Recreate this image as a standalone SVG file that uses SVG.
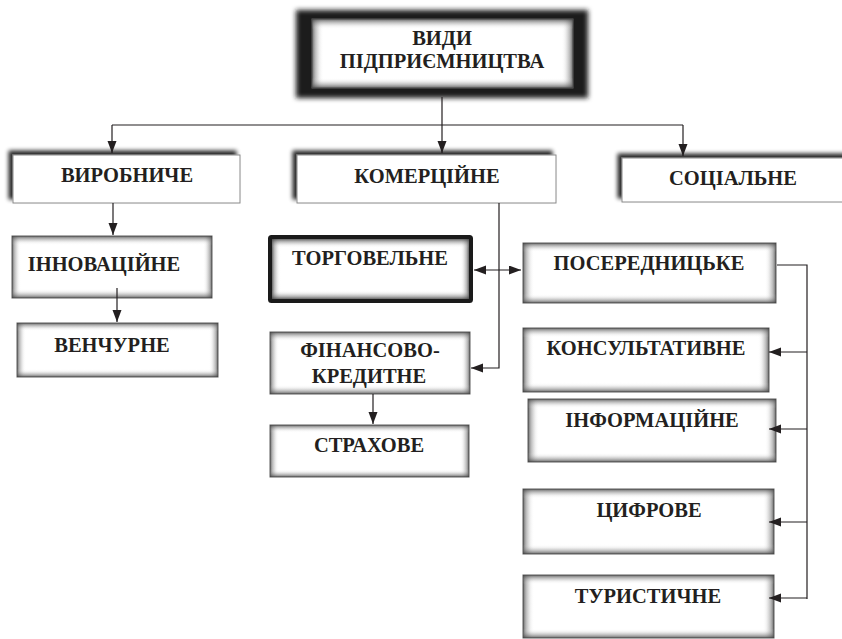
<svg xmlns="http://www.w3.org/2000/svg" width="842" height="639" viewBox="0 0 842 639">
  <defs>
    <style>
      .lbl { font-family: "Liberation Serif", "Times New Roman", "DejaVu Serif", serif; font-weight: bold; font-size: 20.5px; fill: #231f20; text-anchor: middle; }
      .edge { fill: none; stroke: #231f20; stroke-width: 1.2; }
      .card { fill: #ffffff; stroke: #5e5e5e; stroke-width: 1; }
      .sh { fill: url(#shadeX); }
      .sv { fill: url(#shadeY); }
      .raised { fill: #ffffff; stroke: #8a8a8a; stroke-width: 1; }
    </style>
    <marker id="arr" markerUnits="userSpaceOnUse" markerWidth="13" markerHeight="10" refX="12" refY="4.5" orient="auto-start-reverse">
      <path d="M0,0 L12,4.5 L0,9 Z" fill="#231f20"/>
    </marker>
    <!-- grey fade along the left/right inner edges -->
    <linearGradient id="shadeX" x1="0" y1="0" x2="1" y2="0">
      <stop offset="0" stop-color="#404040" stop-opacity="0.8"/>
      <stop offset="0.012" stop-color="#606060" stop-opacity="0.45"/>
      <stop offset="0.03" stop-color="#909090" stop-opacity="0.12"/>
      <stop offset="0.045" stop-color="#ffffff" stop-opacity="0"/>
      <stop offset="0.955" stop-color="#ffffff" stop-opacity="0"/>
      <stop offset="0.97" stop-color="#909090" stop-opacity="0.12"/>
      <stop offset="0.988" stop-color="#606060" stop-opacity="0.45"/>
      <stop offset="1" stop-color="#404040" stop-opacity="0.8"/>
    </linearGradient>
    <!-- grey fade along the top/bottom inner edges -->
    <linearGradient id="shadeY" x1="0" y1="0" x2="0" y2="1">
      <stop offset="0" stop-color="#404040" stop-opacity="0.8"/>
      <stop offset="0.045" stop-color="#606060" stop-opacity="0.45"/>
      <stop offset="0.1" stop-color="#909090" stop-opacity="0.12"/>
      <stop offset="0.15" stop-color="#ffffff" stop-opacity="0"/>
      <stop offset="0.85" stop-color="#ffffff" stop-opacity="0"/>
      <stop offset="0.9" stop-color="#909090" stop-opacity="0.12"/>
      <stop offset="0.955" stop-color="#606060" stop-opacity="0.45"/>
      <stop offset="1" stop-color="#404040" stop-opacity="0.8"/>
    </linearGradient>
    <!-- dark shadow cast up and to the left -->
    <filter id="lift" x="-10%" y="-30%" width="120%" height="160%">
      <feOffset in="SourceAlpha" dx="-4" dy="-4" result="o"/>
      <feGaussianBlur in="o" stdDeviation="2" result="b"/>
      <feComponentTransfer in="b" result="s"><feFuncA type="linear" slope="0.85"/></feComponentTransfer>
      <feMerge><feMergeNode in="s"/><feMergeNode in="SourceGraphic"/></feMerge>
    </filter>
    <filter id="haze" x="-10%" y="-20%" width="120%" height="140%">
      <feGaussianBlur stdDeviation="2.5"/>
    </filter>
  </defs>

  <rect width="842" height="639" fill="#ffffff"/>

  <!-- root -->
  <g id="root">
    <rect x="296" y="10" width="292" height="88" fill="#1e1e1e" filter="url(#haze)"/>
    <rect x="312" y="19" width="261" height="69" class="card"/>
    <rect x="312" y="19" width="261" height="69" class="sh"/>
    <rect x="312" y="19" width="261" height="69" class="sv"/>
    <text class="lbl" x="442" y="45">ВИДИ</text>
    <text class="lbl" x="442" y="68">ПІДПРИЄМНИЦТВА</text>
  </g>

  <!-- first level -->
  <g id="vyrobnyche">
    <rect x="13" y="155" width="227" height="48" class="raised" filter="url(#lift)"/>
    <text class="lbl" x="127" y="182">ВИРОБНИЧЕ</text>
  </g>
  <g id="komertsiine">
    <rect x="297" y="155" width="259" height="48" class="raised" filter="url(#lift)"/>
    <text class="lbl" x="427" y="183">КОМЕРЦІЙНЕ</text>
  </g>
  <g id="sotsialne">
    <rect x="622" y="158" width="230" height="44" class="raised" filter="url(#lift)"/>
    <text class="lbl" x="733" y="185">СОЦІАЛЬНЕ</text>
  </g>

  <!-- production branch -->
  <g id="innovatsiine">
    <rect x="12" y="236" width="200" height="62" class="card"/>
    <rect x="12" y="236" width="200" height="62" class="sh"/>
    <rect x="12" y="236" width="200" height="62" class="sv"/>
    <text class="lbl" x="104" y="271">ІННОВАЦІЙНЕ</text>
  </g>
  <g id="venchurne">
    <rect x="17" y="323" width="201" height="54" class="card"/>
    <rect x="17" y="323" width="201" height="54" class="sh"/>
    <rect x="17" y="323" width="201" height="54" class="sv"/>
    <text class="lbl" x="112" y="352">ВЕНЧУРНЕ</text>
  </g>

  <!-- commercial branch -->
  <g id="torhovelne">
    <rect x="270" y="237" width="201" height="64" class="card"/>
    <rect x="272" y="239" width="197" height="60" class="sh"/>
    <rect x="272" y="239" width="197" height="60" class="sv"/>
    <rect x="270" y="237" width="201" height="64" fill="none" stroke="#1a1a1a" stroke-width="4" rx="1.5"/>
    <text class="lbl" x="370" y="265">ТОРГОВЕЛЬНЕ</text>
  </g>
  <g id="finansovo-kredytne">
    <rect x="270" y="332" width="200" height="62" class="card"/>
    <rect x="270" y="332" width="200" height="62" class="sh"/>
    <rect x="270" y="332" width="200" height="62" class="sv"/>
    <text class="lbl" x="370" y="357">ФІНАНСОВО-</text>
    <text class="lbl" x="369" y="383">КРЕДИТНЕ</text>
  </g>
  <g id="strakhove">
    <rect x="270" y="425" width="199" height="52" class="card"/>
    <rect x="270" y="425" width="199" height="52" class="sh"/>
    <rect x="270" y="425" width="199" height="52" class="sv"/>
    <text class="lbl" x="369" y="452">СТРАХОВЕ</text>
  </g>

  <!-- intermediary branch -->
  <g id="poserednytske">
    <rect x="523" y="243" width="253" height="60" class="card"/>
    <rect x="523" y="243" width="253" height="60" class="sh"/>
    <rect x="523" y="243" width="253" height="60" class="sv"/>
    <text class="lbl" x="649" y="270">ПОСЕРЕДНИЦЬКЕ</text>
  </g>
  <g id="konsultatyvne">
    <rect x="523" y="328" width="246" height="64" class="card"/>
    <rect x="523" y="328" width="246" height="64" class="sh"/>
    <rect x="523" y="328" width="246" height="64" class="sv"/>
    <text class="lbl" x="646" y="355">КОНСУЛЬТАТИВНЕ</text>
  </g>
  <g id="informatsiine">
    <rect x="528" y="399" width="248" height="63" class="card"/>
    <rect x="528" y="399" width="248" height="63" class="sh"/>
    <rect x="528" y="399" width="248" height="63" class="sv"/>
    <text class="lbl" x="652" y="427">ІНФОРМАЦІЙНЕ</text>
  </g>
  <g id="tsyfrove">
    <rect x="523" y="489" width="251" height="65" class="card"/>
    <rect x="523" y="489" width="251" height="65" class="sh"/>
    <rect x="523" y="489" width="251" height="65" class="sv"/>
    <text class="lbl" x="649" y="517">ЦИФРОВЕ</text>
  </g>
  <g id="turystychne">
    <rect x="523" y="575" width="251" height="63" class="card"/>
    <rect x="523" y="575" width="251" height="63" class="sh"/>
    <rect x="523" y="575" width="251" height="63" class="sv"/>
    <text class="lbl" x="648" y="603">ТУРИСТИЧНЕ</text>
  </g>

  <!-- connectors -->
  <g id="connectors">
    <path class="edge" d="M442,97 V125 M112,125 H683"/>
    <path class="edge" d="M112,125 V153" marker-end="url(#arr)"/>
    <path class="edge" d="M442,125 V153" marker-end="url(#arr)"/>
    <path class="edge" d="M683,125 V156" marker-end="url(#arr)"/>
    <path class="edge" d="M113,203 V235" marker-end="url(#arr)"/>
    <path class="edge" d="M117,288 V322" marker-end="url(#arr)"/>
    <path class="edge" d="M499,203 V368 H471" marker-end="url(#arr)"/>
    <path class="edge" d="M474,270 H521" marker-start="url(#arr)" marker-end="url(#arr)"/>
    <path class="edge" d="M373,394 V424" marker-end="url(#arr)"/>
    <path class="edge" d="M777,265 H807 V599"/>
    <path class="edge" d="M807,352 H769" marker-end="url(#arr)"/>
    <path class="edge" d="M807,429 H769" marker-end="url(#arr)"/>
    <path class="edge" d="M807,522 H769" marker-end="url(#arr)"/>
    <path class="edge" d="M807,598 H769" marker-end="url(#arr)"/>
  </g>
</svg>
